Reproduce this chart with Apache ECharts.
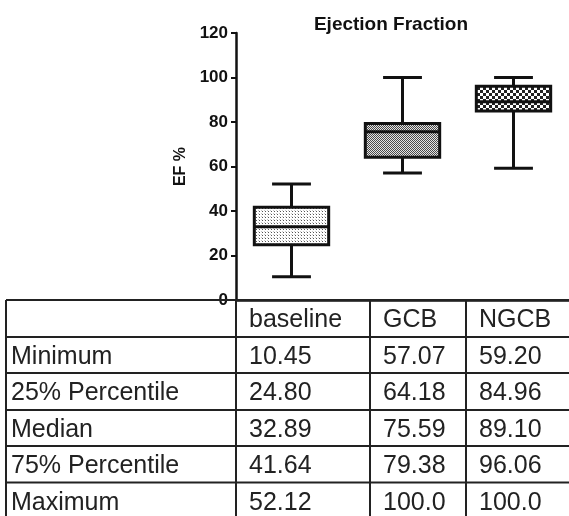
<!DOCTYPE html>
<html>
<head>
<meta charset="utf-8">
<script src="https://cdn.jsdelivr.net/npm/echarts@6/dist/echarts.min.js"></script>
<style>
html,body{margin:0;padding:0;background:#fff;}
#chart{width:569px;height:516px;}
</style>
</head>
<body>
<div id="chart"></div>
<script>
// groups and box statistics (EF %)
const groups=["baseline","GCB","NGCB"];
const minimum=[10.45,57.07,59.20];
const q1=[24.80,64.18,84.96];
const median=[32.89,75.59,89.10];
const q3=[41.64,79.38,96.06];
const maximum=[52.12,100.0,100.0];

const rowLabels=["Minimum","25% Percentile","Median","75% Percentile","Maximum"];
const rowValues=[minimum,q1,median,q3,maximum];

const yTicks=[0,20,40,60,80,100,120];

// small canvas fills for each box
function makePattern(kind){
    const c=document.createElement("canvas");
    const ctx=c.getContext("2d");
    if(kind===0){
        c.width=3;c.height=3;
        ctx.fillStyle="#fff";ctx.fillRect(0,0,3,3);
        ctx.fillStyle="#555";ctx.fillRect(1,1,1,1);
        ctx.fillStyle="#c8c8c8";ctx.fillRect(0,0,1,1);
    }else if(kind===1){
        c.width=2;c.height=2;
        ctx.fillStyle="#e4e4e4";ctx.fillRect(0,0,2,2);
        ctx.fillStyle="#4a4a4a";ctx.fillRect(0,0,1,1);ctx.fillRect(1,1,1,1);
    }else{
        c.width=6;c.height=6;
        ctx.fillStyle="#fff";ctx.fillRect(0,0,6,6);
        ctx.fillStyle="#222";ctx.fillRect(0,0,3,3);ctx.fillRect(3,3,3,3);
    }
    return {image:c,repeat:"repeat"};
}
const patterns=[makePattern(0),makePattern(1),makePattern(2)];

const boxData=groups.map((g,i)=>[i,minimum[i],q1[i],median[i],q3[i],maximum[i]]);

// table geometry
const colX=[6,236,370,466,569];
const rowY=[300,337,373,410,446,482.5,519];
const tableFont="25px 'Liberation Sans', Arial, sans-serif";

function fmt(v){
    return v>=100?v.toFixed(1):v.toFixed(2);
}

const tableEls=[];
rowY.forEach(y=>{
    tableEls.push({type:"line",shape:{x1:colX[0],y1:y,x2:colX[4],y2:y},style:{stroke:"#222",lineWidth:2},z:10});
});
colX.slice(0,4).forEach(x=>{
    tableEls.push({type:"line",shape:{x1:x,y1:rowY[0],x2:x,y2:rowY[6]},style:{stroke:"#222",lineWidth:2},z:10});
});
groups.forEach((g,i)=>{
    tableEls.push({type:"text",x:colX[i+1]+13,y:(rowY[0]+rowY[1])/2+2,
        style:{text:g,font:tableFont,fill:"#222",textVerticalAlign:"middle"},z:10});
});
rowLabels.forEach((lab,r)=>{
    const cy=(rowY[r+1]+rowY[r+2])/2+2;
    tableEls.push({type:"text",x:colX[0]+5,y:cy,
        style:{text:lab,font:tableFont,fill:"#222",textVerticalAlign:"middle"},z:10});
    rowValues[r].forEach((v,i)=>{
        tableEls.push({type:"text",x:colX[i+1]+13,y:cy,
            style:{text:fmt(v),font:tableFont,fill:"#222",textVerticalAlign:"middle"},z:10});
    });
});

const chart=echarts.init(document.getElementById("chart"),null,{renderer:"canvas"});

chart.setOption({
    animation:false,
    backgroundColor:"#fff",
    title:{
        text:"Ejection Fraction",
        left:386,
        top:10,
        textAlign:"center",
        textStyle:{fontFamily:"Liberation Sans, Arial",fontWeight:"bold",fontSize:19,color:"#111"}
    },
    grid:{left:236,top:33,width:336,height:267},
    xAxis:{
        type:"category",
        data:groups,
        boundaryGap:true,
        axisLine:{lineStyle:{color:"#111",width:2.5}},
        axisTick:{alignWithLabel:true,length:4,lineStyle:{color:"#333",width:1.5}},
        axisLabel:{show:false},
        splitLine:{show:false}
    },
    yAxis:{
        type:"value",
        min:yTicks[0],
        max:yTicks[yTicks.length-1],
        interval:20,
        name:"EF %",
        nameLocation:"middle",
        nameGap:46,
        nameRotate:90,
        nameTextStyle:{fontFamily:"Liberation Sans, Arial",fontWeight:"bold",fontSize:16,color:"#111"},
        axisLine:{show:true,lineStyle:{color:"#111",width:2.5}},
        axisTick:{show:true,length:5,lineStyle:{color:"#111",width:2}},
        axisLabel:{margin:8,fontFamily:"Liberation Sans, Arial",fontWeight:"bold",fontSize:17,color:"#111"},
        splitLine:{show:false}
    },
    series:[{
        type:"custom",
        data:boxData,
        encode:{x:0,y:[1,2,3,4,5]},
        renderItem(params,api){
            const i=api.value(0);
            const lo=api.coord([i,api.value(1)]);
            const b=api.coord([i,api.value(2)]);
            const m=api.coord([i,api.value(3)]);
            const t=api.coord([i,api.value(4)]);
            const hi=api.coord([i,api.value(5)]);
            const band=api.size([1,0])[0];
            const half=band*0.335;
            const cap=band*0.175;
            const cx=lo[0];
            const ln={stroke:"#111",lineWidth:3};
            return {
                type:"group",
                children:[
                    {type:"line",shape:{x1:cx,y1:hi[1],x2:cx,y2:t[1]},style:ln},
                    {type:"line",shape:{x1:cx,y1:b[1],x2:cx,y2:lo[1]},style:ln},
                    {type:"line",shape:{x1:cx-cap,y1:hi[1],x2:cx+cap,y2:hi[1]},style:ln},
                    {type:"line",shape:{x1:cx-cap,y1:lo[1],x2:cx+cap,y2:lo[1]},style:ln},
                    {type:"rect",shape:{x:cx-half,y:t[1],width:half*2,height:b[1]-t[1]},
                        style:{fill:patterns[params.dataIndex],stroke:"#111",lineWidth:3}},
                    {type:"line",shape:{x1:cx-half,y1:m[1],x2:cx+half,y2:m[1]},style:ln}
                ]
            };
        }
    }],
    graphic:{elements:tableEls}
});
</script>
</body>
</html>
